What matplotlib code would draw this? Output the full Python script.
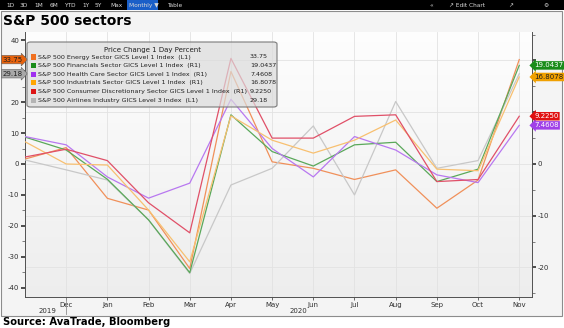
import numpy as np
import matplotlib
matplotlib.use("Agg")
import matplotlib.pyplot as plt
from matplotlib.patches import Rectangle, FancyBboxPatch
from matplotlib.lines import Line2D
import matplotlib.transforms as mtransforms

W, H = 564, 328

months = ["Nov", "Dec", "Jan", "Feb", "Mar", "Apr", "May", "Jun",
          "Jul", "Aug", "Sep", "Oct", "Nov"]

# monthly % change, Nov 2019 .. Nov 2020
energy = [1.6, 5.3, -11.1, -14.9, -33.8, 29.9, 0.7, -1.4, -5.0, -1.9, -14.3, -5.2, 33.75]
airlines = [1.3, -1.9, -5.2, -18.1, -35.4, -6.8, -1.4, 12.3, -10.0, 20.2, -1.4, 1.1, 29.18]
financials = [5.2, 2.7, -2.95, -10.8, -21.0, 9.5, 2.4, -0.4, 3.7, 4.2, -3.4, -1.0, 19.0437]
health = [5.3, 3.7, -2.5, -6.6, -3.7, 12.5, 3.0, -2.5, 5.3, 2.7, -2.1, -3.6, 7.4608]
industrials = [4.3, 0.0, -0.2, -8.9, -18.9, 9.3, 4.6, 2.1, 4.6, 8.5, -1.0, -1.3, 16.8078]
cons_disc = [1.35, 2.85, 0.65, -7.5, -13.3, 20.4, 5.0, 5.0, 9.2, 9.5, -3.4, -3.0, 9.225]

names = [
    "S&P 500 Energy Sector GICS Level 1 Index  (L1)",
    "S&P 500 Financials Sector GICS Level 1 Index  (R1)",
    "S&P 500 Health Care Sector GICS Level 1 Index  (R1)",
    "S&P 500 Industrials Sector GICS Level 1 Index  (R1)",
    "S&P 500 Consumer Discretionary Sector GICS Level 1 Index  (R1)",
    "S&P 500 Airlines Industry GICS Level 3 Index  (L1)",
]
last_labels = ["33.75", "19.0437", "7.4608", "16.8078", "9.2250", "29.18"]

c_energy, c_fin, c_hc, c_ind, c_cd, c_air = (
    "#f07020", "#1a8c1a", "#a030f0", "#ffa500", "#dc1414", "#b4b4b4")
line_colors = ["#f0905a", "#5aa85a", "#b878f0", "#f8c070", "#e05068", "#c8c8c8"]


def fx(x):
    return x / W


def fy(y):
    return 1 - y / H


fig = plt.figure(figsize=(W / 100, H / 100), dpi=100, facecolor="white")

# panel background and border
fig.add_artist(Rectangle((fx(0.5), fy(316)), fx(561), fy(11) - fy(316),
                         transform=fig.transFigure, fc="#f4f4f4", ec="#8c8c8c",
                         lw=0.8, zorder=-5))

# toolbar
fig.add_artist(Rectangle((0, fy(10)), 1, 10 / H, transform=fig.transFigure,
                         fc="#000000", ec="none", zorder=-5))
fig.add_artist(Rectangle((fx(127), fy(10)), fx(31), 10 / H, transform=fig.transFigure,
                         fc="#1a5fc8", ec="none", zorder=-4))
for x, s in [(6, "1D"), (20, "3D"), (34, "1M"), (50, "6M"), (64, "YTD"), (82, "1Y"),
             (95, "5Y"), (110, "Max"), (129, "Monthly \u25bc"), (167, "Table"),
             (429, "\u00ab"), (449, "\u2197 Edit Chart"), (508, "\u2197"), (543, "\u2699")]:
    fig.text(fx(x), fy(5.5), s, color="#d8d8d8", fontsize=4.2, va="center", ha="left")

fig.text(fx(3), fy(21), "S&P 500 sectors", fontsize=10, fontweight="bold",
         va="center", ha="left")
fig.text(fx(3), fy(322), "Source: AvaTrade, Bloomberg", fontsize=7.2,
         fontweight="bold", va="center", ha="left")

ax = fig.add_axes([fx(25), fy(297), fx(532) - fx(25), fy(32) - fy(297)])
ax2 = ax.twinx()

x = np.arange(len(months))

# plot area gradient
grad = np.linspace(0, 1, 256).reshape(-1, 1)
ax.imshow(grad, extent=[-0.5, 13, -50, 50], aspect="auto", origin="upper",
          cmap=matplotlib.colors.LinearSegmentedColormap.from_list(
              "bg", ["#ffffff", "#ececec"]), zorder=0)

r_lim = (-25.7, 25.5)
k = 5.17 / 3.09
ax2.set_ylim(r_lim)
ax.set_ylim(r_lim[0] * k, r_lim[1] * k)
ax.set_xlim(0, 12.31)

ax.plot(x, energy, color=line_colors[0], lw=0.9, zorder=3)
ax.plot(x, airlines, color=line_colors[5], lw=0.9, zorder=3)
ax2.plot(x, financials, color=line_colors[1], lw=0.9)
ax2.plot(x, health, color=line_colors[2], lw=0.9)
ax2.plot(x, industrials, color=line_colors[3], lw=0.9)
ax2.plot(x, cons_disc, color=line_colors[4], lw=0.9)

# grid
for xi in x[1:]:
    ax.axvline(xi, color="#e2e2e2", lw=0.6, zorder=1)
for r in [-20, -10, 0, 10, 20]:
    ax.axhline(r * k, color="#e2e2e2", lw=0.6, zorder=1)

for a in (ax, ax2):
    for sp in a.spines.values():
        sp.set_visible(False)
    a.patch.set_visible(False)
ax.spines["left"].set_visible(True)
ax.spines["bottom"].set_visible(True)
ax2.spines["right"].set_visible(True)
for sp in [ax.spines["left"], ax.spines["bottom"], ax2.spines["right"]]:
    sp.set_color("#505050")
    sp.set_linewidth(0.7)

# labels sitting under the value tags are left blank
ax.set_yticks(np.arange(-40, 41, 10))
ax.set_yticks(np.arange(-40, 41, 5), minor=True)
ax.set_yticklabels(["" if v == 30 else str(v) for v in range(-40, 41, 10)])
ax2.set_yticks([-20, -10, 0, 10, 20])
ax2.set_yticklabels(["-20", "-10", "0", "", ""])
ax2.set_yticks(np.arange(-25, 26, 5), minor=True)
ax.tick_params(axis="y", which="major", length=3, width=1.2, pad=1,
               labelsize=5, colors="#303030")
ax.tick_params(axis="y", which="minor", length=2, width=0.5, color="#505050")
ax2.tick_params(axis="y", which="major", length=3, width=1.2, pad=1,
                labelsize=5, colors="#303030")
ax2.tick_params(axis="y", which="minor", length=2, width=0.5, color="#505050")

ax.set_xticks(x[1:])
ax.set_xticklabels(months[1:])
ax.tick_params(axis="x", length=2, width=0.5, pad=1.5, labelsize=5,
               colors="#303030")

# year labels under the month axis
fig.text(fx(47), fy(311), "2019", fontsize=5, color="#303030",
         ha="center", va="center")
fig.text(fx(298), fy(311), "2020", fontsize=5, color="#303030",
         ha="center", va="center")
fig.add_artist(Line2D([fx(66), fx(66)], [fy(298), fy(314)], color="#909090", lw=0.6))

# last-value tags
blend_l = mtransforms.blended_transform_factory(ax.transAxes, ax.transData)
blend_r = mtransforms.blended_transform_factory(ax2.transAxes, ax2.transData)
for val, txt, fc, tc in [(energy[-1], "33.75", "#e8620c", "#202020"),
                         (airlines[-1], "29.18", "#a8a8a8", "#202020")]:
    ax.text(-0.004, val, txt, transform=blend_l, ha="right", va="center",
            fontsize=5, color=tc, clip_on=False, zorder=10,
            bbox=dict(boxstyle="rarrow,pad=0.18", fc=fc, ec="#606060", lw=0.4))
for val, txt, fc, tc in [(financials[-1], "19.0437", "#1a8c1a", "white"),
                         (industrials[-1], "16.8078", "#f0a000", "#202020"),
                         (cons_disc[-1], "9.2250", "#e01010", "white"),
                         (health[-1], "7.4608", "#a040e8", "white")]:
    ax2.text(1.004, val, txt, transform=blend_r, ha="left", va="center",
             fontsize=5, color=tc, clip_on=False, zorder=10,
             bbox=dict(boxstyle="larrow,pad=0.18", fc=fc, ec="none"))

# legend panel (translucent, lines show through)
fig.add_artist(FancyBboxPatch((fx(27), fy(107)), fx(250), fy(42) - fy(107),
                              boxstyle="round,pad=0,rounding_size=0.006",
                              transform=fig.transFigure, fc=(0.86, 0.86, 0.86, 0.7),
                              ec="#7a7a7a", lw=0.8, zorder=20))
fig.text(fx(152), fy(50), "Price Change 1 Day Percent", fontsize=5,
         ha="center", va="center", color="#202020", zorder=21)
sq_colors = [c_energy, c_fin, c_hc, c_ind, c_cd, c_air]
for i, (nm, val, c) in enumerate(zip(names, last_labels, sq_colors)):
    yy = 57 + i * 8.6
    fig.add_artist(Rectangle((fx(31), fy(yy + 2.5)), fx(5), 5 / H,
                             transform=fig.transFigure, fc=c, ec="none", zorder=21))
    fig.text(fx(38), fy(yy), nm, fontsize=4.6, ha="left", va="center",
             color="#202020", zorder=21)
    fig.text(fx(250), fy(yy), val, fontsize=4.6, ha="left", va="center",
             color="#202020", zorder=21)

fig.savefig("out.png", dpi=100, facecolor="white")
